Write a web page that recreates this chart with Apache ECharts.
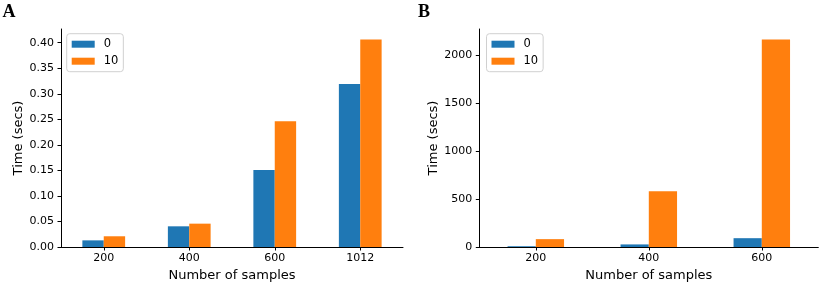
<!DOCTYPE html>
<html>
<head>
<meta charset="utf-8">
<script src="https://cdn.jsdelivr.net/npm/echarts@6/dist/echarts.min.js"></script>
<style>
html,body{margin:0;padding:0;background:#fff;}
#chart{width:830px;height:296px;}
</style>
</head>
<body>
<div id="chart"></div>
<script>
// Panel A data
const categoriesA = ['200', '400', '600', '1012'];
const seriesA0 = [0.013, 0.0405, 0.151, 0.319];
const seriesA10 = [0.021, 0.0457, 0.246, 0.4065];
const ticksA = [0, 0.05, 0.10, 0.15, 0.20, 0.25, 0.30, 0.35, 0.40];
// Panel B data
const categoriesB = ['200', '400', '600'];
const seriesB0 = [8, 27, 92];
const seriesB10 = [82, 582, 2167];
const ticksB = [0, 500, 1000, 1500, 2000];
const seriesNames = ['0', '10'];

const FONT = 'DejaVu Sans';
const blue = '#1f77b4', orange = '#ff7f0e';

const maxA = Math.max(...seriesA0, ...seriesA10) * 1.05;
const maxB = Math.max(...seriesB0, ...seriesB10) * 1.05;

function yAxis(gridIndex, max, ticks, fmt, nameGap) {
  return {
    type: 'value', gridIndex, min: 0, max,
    name: 'Time (secs)', nameLocation: 'middle', nameGap,
    nameTextStyle: {fontFamily: FONT, fontSize: 13, color: '#000'},
    axisLine: {show: true, lineStyle: {color: '#000', width: 1}},
    axisTick: {show: true, length: 3.5, lineStyle: {color: '#000', width: 1}, customValues: ticks},
    axisLabel: {fontFamily: FONT, fontSize: 11, color: '#000', margin: 7, customValues: ticks, formatter: fmt},
    splitLine: {show: false}
  };
}
function xAxis(gridIndex, cats) {
  return {
    type: 'category', gridIndex, data: cats, boundaryGap: true,
    name: 'Number of samples', nameLocation: 'middle', nameGap: 20,
    nameTextStyle: {fontFamily: FONT, fontSize: 13, color: '#000'},
    axisLine: {show: true, lineStyle: {color: '#000', width: 1}},
    axisTick: {show: true, alignWithLabel: true, length: 3.5, lineStyle: {color: '#000', width: 1}},
    axisLabel: {fontFamily: FONT, fontSize: 11, color: '#000', margin: 6}
  };
}
function legend(left) {
  return {
    orient: 'vertical', left, top: 33.7, data: seriesNames.map(n => ({name: n, icon: 'rect'})),
    itemWidth: 23, itemHeight: 7, itemGap: 4,
    padding: [4, 5, 4, 5],
    backgroundColor: '#fff', borderColor: '#d0d0d0', borderWidth: 1, borderRadius: 3,
    textStyle: {fontFamily: FONT, fontSize: 11.5, color: '#000', lineHeight: 13, padding: [0, 0, 0, 4]},
    selectedMode: false
  };
}
function bar(name, data, idx, color) {
  return {
    type: 'bar', name, data, xAxisIndex: idx, yAxisIndex: idx,
    barWidth: '25%', barGap: '0%',
    itemStyle: {color}, animation: false
  };
}

const chart = echarts.init(document.getElementById('chart'), null, {renderer: 'canvas'});
chart.setOption({
  animation: false,
  title: [
    {text: 'A', left: 2.5, top: 3, textStyle: {fontFamily: 'Liberation Serif', fontWeight: 'bold', fontSize: 18, color: '#000'}, padding: 0},
    {text: 'B', left: 418, top: 3, textStyle: {fontFamily: 'Liberation Serif', fontWeight: 'bold', fontSize: 18, color: '#000'}, padding: 0}
  ],
  legend: [legend(66.7), legend(486.5)],
  grid: [
    {left: 61, right: 427, top: 29, bottom: 49},
    {left: 479.3, right: 11.7, top: 29, bottom: 49}
  ],
  xAxis: [xAxis(0, categoriesA), xAxis(1, categoriesB)],
  yAxis: [
    yAxis(0, maxA, ticksA, v => v.toFixed(2), 36),
    yAxis(1, maxB, ticksB, v => String(Math.round(v)), 39)
  ],
  series: [
    bar(seriesNames[0], seriesA0, 0, blue),
    bar(seriesNames[1], seriesA10, 0, orange),
    bar(seriesNames[0], seriesB0, 1, blue),
    bar(seriesNames[1], seriesB10, 1, orange)
  ]
});
</script>
</body>
</html>
